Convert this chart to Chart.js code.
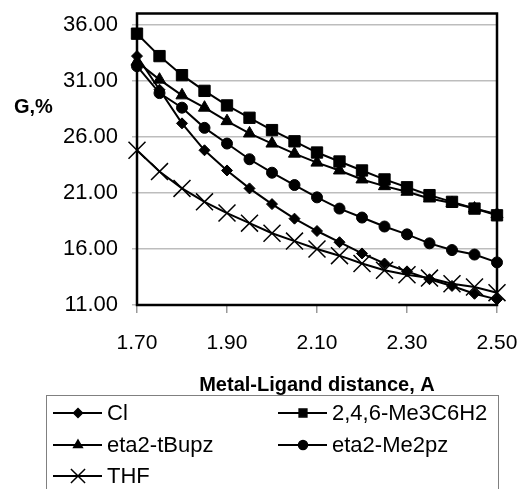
<!DOCTYPE html>
<html lang="en">
<head>
  <meta charset="UTF-8">
  <title>G vs Metal-Ligand distance</title>
  <style>
    html, body { margin: 0; padding: 0; background: #fff; }
    #wrap { width: 523px; height: 489px; position: relative; }
  </style>
</head>
<body>
  <div id="wrap"><canvas id="chart"></canvas></div>

  <script src="https://cdn.jsdelivr.net/npm/chart.js"></script>
  <script>
    // Data
    const distances = [1.70, 1.75, 1.80, 1.85, 1.90, 1.95, 2.00, 2.05, 2.10, 2.15, 2.20, 2.25, 2.30, 2.35, 2.40, 2.45, 2.50];
    const clValues     = [33.2, 30.2, 27.2, 24.8, 23.0, 21.4, 20.0, 18.7, 17.6, 16.6, 15.6, 14.7, 14.0, 13.3, 12.7, 12.0, 11.5];
    const mesValues    = [35.2, 33.2, 31.5, 30.1, 28.8, 27.7, 26.6, 25.6, 24.6, 23.8, 23.0, 22.2, 21.5, 20.8, 20.2, 19.6, 19.0];
    const tbupzValues  = [32.7, 31.1, 29.7, 28.6, 27.4, 26.3, 25.4, 24.5, 23.7, 23.0, 22.2, 21.6, 21.1, 20.5, 20.1, 19.6, 19.1];
    const me2pzValues  = [32.3, 29.9, 28.6, 26.8, 25.4, 24.0, 22.8, 21.7, 20.6, 19.6, 18.8, 18.0, 17.3, 16.5, 15.9, 15.5, 14.8];
    const thfValues    = [24.8, 22.9, 21.4, 20.2, 19.2, 18.3, 17.4, 16.7, 16.0, 15.4, 14.7, 14.1, 13.7, 13.4, 12.9, 12.6, 12.1];
    const yTicks = [11, 16, 21, 26, 31, 36];
    const xTicks = [1.70, 1.90, 2.10, 2.30, 2.50];

    const series = [
      { label: 'Cl', values: clValues, style: 'rectRot', r: 5.5, lr: 4.5 },
      { label: '2,4,6-Me3C6H2', values: mesValues, style: 'rect', r: 8, lr: 5.5 },
      { label: 'eta2-tBupz', values: tbupzValues, style: 'triangle', r: 7, lr: 5 },
      { label: 'eta2-Me2pz', values: me2pzValues, style: 'circle', r: 5.5, lr: 4.5 },
      { label: 'THF', values: thfValues, style: 'crossRot', r: 12, lr: 10 }
    ];

    // plot frame drawn under the marks
    const framePlugin = {
      id: 'frame',
      beforeDatasetsDraw(chart) {
        const { ctx, chartArea: a } = chart;
        ctx.save();
        ctx.strokeStyle = '#000';
        ctx.lineWidth = 2.5;
        ctx.strokeRect(a.left, a.top, a.right - a.left, a.bottom - a.top);
        ctx.restore();
      }
    };

    // horizontal y title and two-column legend box, Excel style
    const legendPlugin = {
      id: 'boxLegend',
      afterDraw(chart) {
        const ctx = chart.ctx;
        ctx.save();
        ctx.fillStyle = '#000';
        ctx.font = 'bold 20px "Liberation Sans", Arial, sans-serif';
        ctx.textBaseline = 'middle';
        ctx.textAlign = 'left';
        ctx.fillText('G,%', 14, 107);

        ctx.strokeStyle = '#808080';
        ctx.lineWidth = 1;
        ctx.strokeRect(46.5, 395.5, 452, 110);

        const cols = [53, 278];
        const rows = [413, 445, 476];
        ctx.font = '22px "Liberation Sans", Arial, sans-serif';
        series.forEach((s, i) => {
          const x = cols[i % 2];
          const y = rows[Math.floor(i / 2)];
          ctx.strokeStyle = '#000';
          ctx.fillStyle = '#000';
          ctx.lineWidth = 2;
          ctx.beginPath();
          ctx.moveTo(x, y);
          ctx.lineTo(x + 49, y);
          ctx.stroke();
          ctx.lineWidth = 1.5;
          Chart.helpers.drawPoint(ctx, { pointStyle: s.style, radius: s.lr, rotation: 0, borderWidth: 1.5 }, x + 25, y);
          ctx.fillStyle = '#000';
          ctx.fillText(s.label, x + 54, y + 1);
        });
        ctx.restore();
      }
    };

    new Chart(document.getElementById('chart'), {
      type: 'line',
      data: {
        datasets: series.map(s => ({
          label: s.label,
          data: distances.map((d, i) => ({ x: d, y: s.values[i] })),
          borderColor: '#000',
          backgroundColor: '#000',
          borderWidth: 2,
          pointStyle: s.style,
          pointRadius: s.r,
          pointBorderWidth: s.style === 'crossRot' ? 1.5 : 1,
          pointBorderColor: '#000',
          pointBackgroundColor: '#000',
          tension: 0,
          clip: false
        }))
      },
      options: {
        responsive: true,
        maintainAspectRatio: false,
        animation: false,
        layout: { padding: { left: 0, right: 26, top: 13, bottom: 92 } },
        plugins: { legend: { display: false }, tooltip: { enabled: false } },
        scales: {
          x: {
            type: 'linear',
            min: 1.70,
            max: 2.50,
            afterBuildTicks: s => { s.ticks = xTicks.map(v => ({ value: v })); },
            afterFit: s => { s.height = 92; s.paddingLeft = 0; s.paddingRight = 0; },
            ticks: {
              color: '#000',
              padding: 18,
              maxRotation: 0,
              font: { family: '"Liberation Sans", Arial, sans-serif', size: 21 },
              callback: v => Number(v).toFixed(2)
            },
            grid: { drawOnChartArea: false, drawTicks: true, tickLength: 8, color: '#999', lineWidth: 1.5 },
            border: { display: false },
            title: {
              display: true,
              text: 'Metal-Ligand distance, A',
              color: '#000',
              padding: { top: 0, bottom: 0 },
              font: { family: '"Liberation Sans", Arial, sans-serif', size: 20, weight: 'bold' }
            }
          },
          y: {
            min: 11,
            max: 37,
            afterBuildTicks: s => { s.ticks = yTicks.map(v => ({ value: v })); },
            afterFit: s => { s.width = 137; s.paddingTop = 0; s.paddingBottom = 0; },
            ticks: {
              color: '#000',
              padding: 14,
              font: { family: '"Liberation Sans", Arial, sans-serif', size: 22 },
              callback: v => Number(v).toFixed(2)
            },
            grid: { color: '#bdbdbd', lineWidth: 1.5, tickLength: 5 },
            border: { display: false }
          }
        }
      },
      plugins: [framePlugin, legendPlugin]
    });
  </script>
</body>
</html>
